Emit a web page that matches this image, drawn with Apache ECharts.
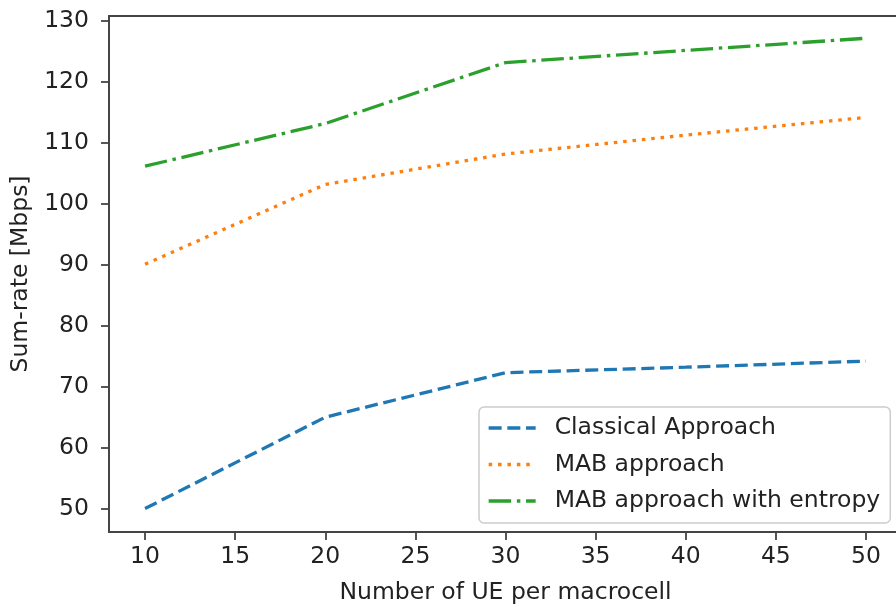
<!DOCTYPE html>
<html>
<head>
<meta charset="utf-8">
<script src="https://cdn.jsdelivr.net/npm/echarts@6/dist/echarts.min.js"></script>
<style>
html,body{margin:0;padding:0;background:#fff;}
#chart{width:896px;height:607px;}
</style>
</head>
<body>
<div id="chart"></div>
<script>
const xValues = [10, 20, 30, 40, 50];
const classical = [50, 65, 72.3, 73.2, 74.2];
const mab = [90.1, 103.2, 108.2, 111.3, 114.2];
const mabEntropy = [106.2, 113.2, 123.2, 125.2, 127.2];
const seriesNames = ['Classical Approach', 'MAB approach', 'MAB approach with entropy'];
const xTicks = [10, 15, 20, 25, 30, 35, 40, 45, 50];
const yTicks = [50, 60, 70, 80, 90, 100, 110, 120, 130];

const FONT = 'DejaVu Sans';
const FS = 23.5;
const pairs = arr => xValues.map((x, i) => [x, arr[i]]);

const chart = echarts.init(document.getElementById('chart'), null, {renderer: 'canvas'});
const axisCol = '#444';
chart.setOption({
  animation: false,
  backgroundColor: '#fff',
  grid: {left: 109, top: 16, width: 793, height: 516, outerBoundsMode: 'none', containLabel: false,
         show: true, borderColor: axisCol, borderWidth: 1.8, backgroundColor: 'transparent'},
  xAxis: {
    type: 'value', min: 8, max: 52,
    name: 'Number of UE per macrocell', nameLocation: 'middle', nameGap: 49,
    nameTextStyle: {fontFamily: FONT, fontSize: FS, color: '#222'},
    axisLine: {show: true, onZero: false, lineStyle: {color: axisCol, width: 1.8}},
    axisTick: {show: true, customValues: xTicks, length: 8, lineStyle: {color: axisCol, width: 1.8}},
    axisLabel: {customValues: xTicks, margin: 13, fontFamily: FONT, fontSize: FS, color: '#222'},
    splitLine: {show: false}
  },
  yAxis: {
    type: 'value', min: 46.15, max: 130.85,
    name: 'Sum-rate [Mbps]', nameLocation: 'middle', nameGap: 74, nameRotate: 90,
    nameTextStyle: {fontFamily: FONT, fontSize: FS, color: '#222'},
    axisLine: {show: true, onZero: false, lineStyle: {color: axisCol, width: 1.8}},
    axisTick: {show: true, customValues: yTicks, length: 8, lineStyle: {color: axisCol, width: 1.8}},
    axisLabel: {customValues: yTicks, margin: 20, fontFamily: FONT, fontSize: FS, color: '#222'},
    splitLine: {show: false}
  },
  legend: {
    show: true,
    orient: 'vertical', left: 479, top: 407,
    data: seriesNames,
    itemWidth: 47, itemHeight: 22, itemGap: 12.5,
    padding: [9, 10, 10, 8],
    itemStyle: {opacity: 0},
    lineStyle: {width: 3.3},
    backgroundColor: 'rgba(255,255,255,0.85)', borderColor: '#cccccc', borderWidth: 1.5, borderRadius: 5,
    textStyle: {fontFamily: FONT, fontSize: FS, color: '#222', padding: [0, 0, 0, 14]}
  },
  series: [
    {name: seriesNames[0], type: 'line', data: pairs(classical), symbol: 'none', color: '#1f77b4',
     lineStyle: {width: 3.3, type: [13, 5.7], cap: 'butt', color: '#1f77b4'}},
    {name: seriesNames[1], type: 'line', data: pairs(mab), symbol: 'none', color: '#ff7f0e',
     lineStyle: {width: 3.3, type: [3.5, 5.9], cap: 'butt', color: '#ff7f0e'}},
    {name: seriesNames[2], type: 'line', data: pairs(mabEntropy), symbol: 'none', color: '#2ca02c',
     lineStyle: {width: 3.3, type: [22.5, 5.7, 3.5, 5.7], cap: 'butt', color: '#2ca02c'}}
  ]
});
</script>
</body>
</html>
